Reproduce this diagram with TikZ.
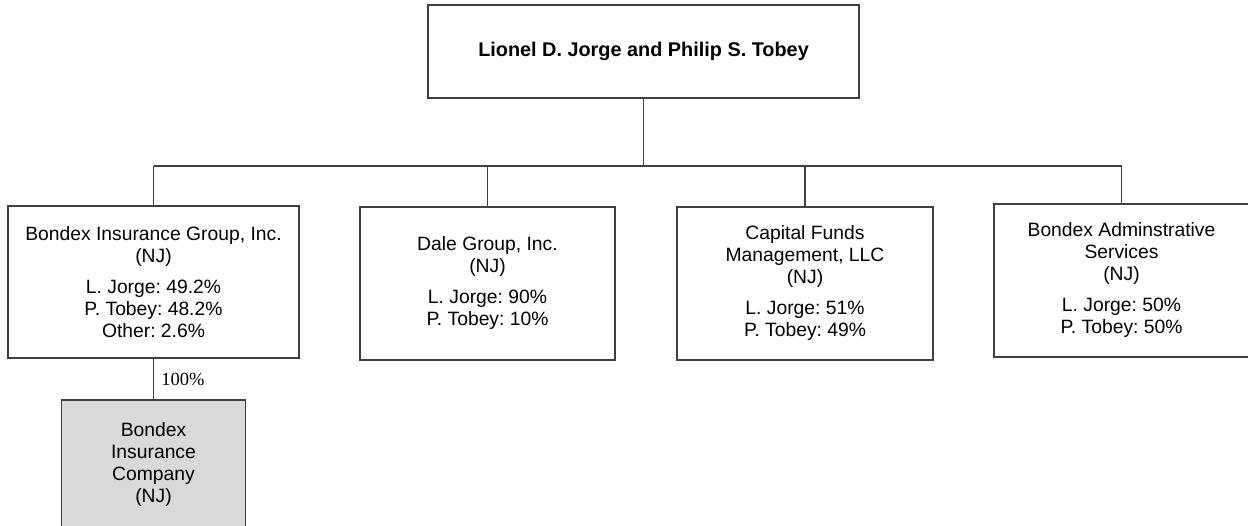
\documentclass[tikz,border=0pt]{standalone}
\usepackage{fontspec}
\setmainfont{Liberation Sans}
\newfontfamily\serifnum{Liberation Serif}
\definecolor{boxline}{HTML}{404040}
\definecolor{subfill}{HTML}{D9D9D9}
\frenchspacing
\begin{document}
\begin{tikzpicture}[x=1pt, y=-1pt,
		entity/.style={draw=boxline, line width=1.1pt, align=center, inner sep=0pt,
			font=\fontsize{19.3}{22}\selectfont},
		link/.style={draw=boxline, line width=1.1pt}]
		\useasboundingbox (0,0) rectangle (1248,525);
		
		\node[entity, minimum width=431, minimum height=93, font=\fontsize{19.85}{22}\selectfont\bfseries]
			(owners) at (643.5,51.5) {Lionel D. Jorge and Philip S. Tobey};
		
		\node[entity, minimum width=291, minimum height=152] (big) at (153.5,282)
			{Bondex Insurance Group, Inc.\\(NJ)\\[9pt]L. Jorge: 49.2\%\\P. Tobey: 48.2\%\\Other: 2.6\%};
		\node[entity, minimum width=255, minimum height=153] (dale) at (487.5,283.5)
			{Dale Group, Inc.\\(NJ)\\[9pt]L. Jorge: 90\%\\P. Tobey: 10\%};
		\node[entity, minimum width=256, minimum height=153] (cfm) at (805,283.5)
			{Capital Funds\\Management, LLC\\(NJ)\\[9pt]L. Jorge: 51\%\\P. Tobey: 49\%};
		\node[entity, minimum width=255, minimum height=153] (bas) at (1121.5,280.5)
			{Bondex Adminstrative\\Services\\(NJ)\\[9pt]L. Jorge: 50\%\\P. Tobey: 50\%};
		
		\node[entity, fill=subfill, minimum width=184, minimum height=128] (bic) at (153.5,464)
			{Bondex\\Insurance\\Company\\(NJ)};
		
		% ownership lines
		\coordinate (bus) at (0,166);
		\draw[link] (owners.south) -- (owners.south |- bus);
		\draw[link] (big.north |- bus) -- (bas.north |- bus);
		\foreach \n in {big, dale, cfm, bas}
			\draw[link] (\n.north |- bus) -- (\n.north);
		\draw[link] (big.south) -- (bic.north)
			node[midway, right=4pt, font=\serifnum\fontsize{18.5}{20}\selectfont] {100\%};
	\end{tikzpicture}
\end{document}
